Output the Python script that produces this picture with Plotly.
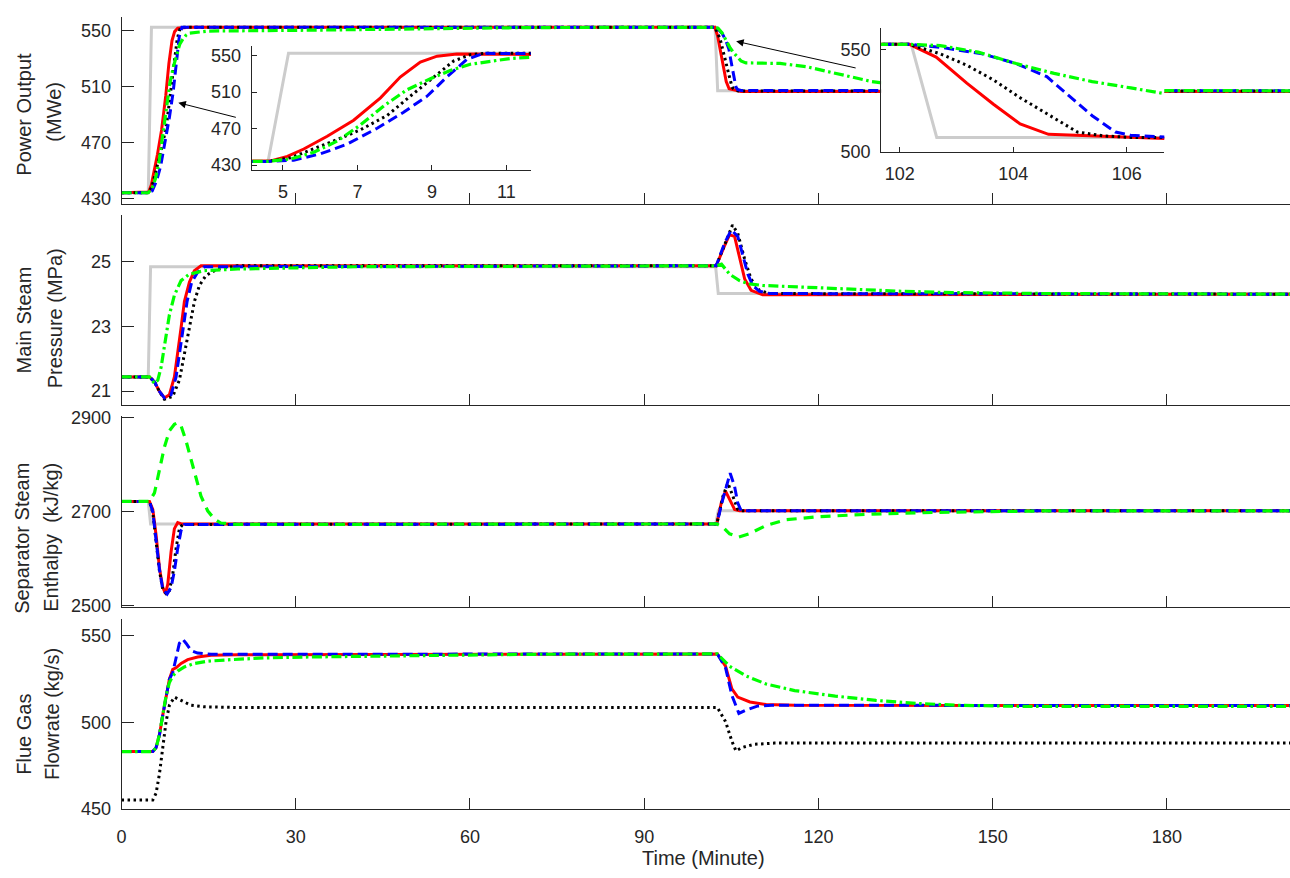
import plotly.graph_objects as go

# ---------------- DATA ----------------
# Power output (MWe)
pw_gray_t = [0, 4.6, 5.15, 102.2, 102.65, 201.5]
pw_gray_v = [434, 434, 552.5, 552.5, 507, 507]
pw_red_t = [0, 4.18, 4.67, 5.12, 5.56, 6.19, 6.90, 7.62, 8.15, 8.69, 9.14, 9.67, 11.68, 102.17, 102.64, 103.18, 103.65, 104.12, 104.62, 105.06, 106.66, 201.5]
pw_red_v = [434, 434, 434.5, 439.5, 447.6, 461.6, 479.2, 503.7, 526.5, 543, 549.4, 551.8, 552.5, 552.5, 546.3, 533.5, 523.2, 513.6, 508.5, 508, 506.5, 506.5]
pw_blk_t = [0, 4.6, 5.21, 5.83, 6.46, 7.08, 7.80, 8.42, 9.05, 9.58, 10.03, 10.47, 102.17, 102.71, 103.18, 103.65, 104.12, 104.59, 105.13, 105.60, 106.07, 106.66, 201.5]
pw_blk_v = [434, 434, 438, 447.6, 458, 468.6, 484.4, 505.5, 526.5, 544, 551, 552.5, 552.5, 547.9, 542.3, 535.1, 526.4, 518.4, 509.6, 507.7, 507.0, 506.9, 506.9]
pw_blu_t = [0, 4.6, 5.29, 6.01, 6.72, 7.53, 8.24, 8.87, 9.40, 9.94, 10.39, 102.17, 102.71, 103.45, 104.05, 104.59, 104.99, 105.39, 105.80, 106.07, 106.66, 201.5]
pw_blu_v = [434, 434, 435.3, 442.3, 452.8, 470.4, 487.9, 505.5, 526.5, 545.8, 552.5, 552.5, 551.1, 547.9, 543.1, 536.7, 527.2, 517.6, 509.6, 508, 507.2, 507]
pw_grn_t = [0, 4.6, 5.21, 5.83, 6.46, 7.08, 7.71, 8.33, 8.96, 9.49, 10.03, 10.56, 11.10, 11.68, 15, 30, 50, 70, 102.17, 102.71, 103.38, 104.05, 104.72, 105.39, 106.07, 106.66, 107.5, 110.1, 113.4, 118, 123.2, 129.1, 135, 145, 160, 201.5]
pw_grn_v = [434, 434, 436.7, 444, 456.3, 473.9, 494.9, 512.5, 524.7, 533.6, 540.5, 544, 546.8, 548.3, 549.8, 550.3, 551.5, 552.3, 552.5, 551.9, 548.7, 543.1, 538.3, 534.3, 531.2, 528.4, 527, 527, 526.6, 524.2, 519.5, 513.7, 510.5, 508.3, 507.3, 507]

# Main steam pressure (MPa)
pr_gray_t = [0, 4.6, 5.0, 102.3, 102.75, 201.5]
pr_gray_v = [21.44, 21.44, 24.85, 24.85, 24.02, 24.02]
pr_red_t = [0, 4.81, 5.67, 6.53, 7.38, 8.24, 9.10, 9.67, 10.25, 10.82, 11.68, 12.54, 13.68, 15.4, 102.4, 103.84, 104.7, 105.56, 106.4, 107.3, 108.4, 110.4, 201.5]
pr_red_v = [21.44, 21.44, 21.29, 20.99, 20.79, 20.89, 21.44, 22.15, 22.96, 23.77, 24.37, 24.73, 24.88, 24.88, 24.88, 25.5, 25.84, 25.79, 25.18, 24.47, 24.12, 23.98, 24.0]
pr_blu_t = [0, 4.81, 5.67, 6.53, 7.38, 8.53, 9.39, 9.96, 10.53, 11.28, 12.07, 13.1, 14.25, 102.4, 103.84, 105.0, 106.1, 107.0, 107.85, 108.7, 109.85, 111.6, 201.5]
pr_blu_v = [21.44, 21.44, 21.29, 20.99, 20.79, 20.89, 21.44, 22.15, 22.93, 23.77, 24.37, 24.68, 24.85, 24.88, 25.58, 25.99, 25.79, 25.18, 24.62, 24.27, 24.09, 24.02, 24.0]
pr_blk_t = [0, 4.81, 5.67, 6.53, 7.38, 8.82, 9.96, 10.82, 11.68, 12.54, 13.4, 14.54, 16.5, 20, 102.4, 103.84, 105.2, 106.1, 107.3, 108.4, 109.85, 111.6, 201.5]
pr_blk_v = [21.44, 21.44, 21.29, 20.99, 20.75, 20.84, 21.34, 22.15, 23.06, 23.77, 24.27, 24.58, 24.78, 24.88, 24.88, 25.54, 26.14, 25.89, 25.08, 24.47, 24.12, 24.02, 24.0]
pr_grn_t = [0, 4.81, 5.67, 6.24, 6.81, 7.38, 8.24, 9.10, 10.25, 11.68, 14.25, 20, 40, 102.4, 103.3, 104.7, 106.4, 108.1, 110.4, 117.3, 125.9, 134.5, 143, 160, 201.5]
pr_grn_v = [21.44, 21.44, 21.24, 21.34, 21.74, 22.45, 23.36, 23.97, 24.42, 24.62, 24.73, 24.78, 24.85, 24.88, 24.93, 24.62, 24.42, 24.32, 24.27, 24.22, 24.15, 24.09, 24.05, 24.02, 24.0]

# Separator steam enthalpy (kJ/kg)
en_gray_t = [0, 4.6, 5.0, 102.3, 102.75, 201.5]
en_gray_v = [2722, 2722, 2674, 2674, 2702, 2702]
en_red_t = [0, 4.81, 5.38, 5.95, 6.53, 7.10, 7.56, 7.96, 8.53, 9.10, 9.67, 10.3, 102.5, 103.27, 104.0, 104.7, 105.56, 106.4, 201.5]
en_red_v = [2722, 2722, 2705, 2650, 2580, 2539, 2526, 2546, 2615, 2664, 2677, 2674, 2674, 2719, 2744, 2726, 2705, 2702, 2702]
en_blk_t = [0, 4.81, 5.38, 5.95, 6.53, 7.10, 7.67, 8.24, 8.82, 9.39, 9.96, 10.53, 102.5, 103.56, 104.4, 105.27, 106.1, 106.7, 201.5]
en_blk_v = [2722, 2722, 2698, 2636, 2574, 2535, 2526, 2532, 2567, 2622, 2664, 2673, 2674, 2733, 2761, 2733, 2705, 2702, 2702]
en_blu_t = [0, 4.81, 5.38, 5.95, 6.53, 7.10, 7.85, 8.53, 9.10, 9.67, 10.25, 10.82, 102.5, 103.56, 104.24, 104.8, 105.56, 106.1, 106.7, 201.5]
en_blu_v = [2722, 2722, 2700, 2640, 2577, 2535, 2525, 2539, 2574, 2622, 2660, 2673, 2674, 2728, 2761, 2782, 2754, 2719, 2702, 2702]
en_grn_t = [0, 4.81, 5.67, 6.53, 7.38, 8.24, 9.10, 9.67, 10.25, 11.1, 11.97, 12.83, 13.68, 14.83, 15.97, 17.1, 20, 102.5, 103.56, 104.7, 106.3, 108.1, 111.0, 114.4, 120.2, 125.9, 131.6, 140.2, 148.8, 160.2, 201.5]
en_grn_v = [2722, 2722, 2740, 2789, 2837.5, 2872, 2886, 2889.6, 2882.5, 2851, 2810, 2768, 2733, 2702, 2684.6, 2676, 2673, 2674, 2667, 2653, 2646, 2653, 2671, 2683, 2689.6, 2693, 2696, 2698.5, 2700.7, 2702, 2702]

# Flue gas flowrate (kg/s)
fg_red_t = [0, 5.38, 5.95, 6.53, 7.10, 7.67, 8.24, 8.82, 9.39, 10.25, 11.39, 13.1, 15.4, 20, 102.6, 104.0, 105.1, 106.1, 108.2, 111.0, 115.9, 201.5]
fg_red_v = [483, 483, 485.3, 492.8, 504.1, 515.4, 524.9, 530.6, 531.5, 534, 536.2, 537.7, 538.7, 539, 539.5, 532.4, 519.3, 514.5, 511.7, 510.2, 509.8, 509.6]
fg_blu_t = [0, 5.38, 5.95, 6.53, 7.10, 7.67, 8.24, 8.82, 9.39, 9.96, 10.53, 11.1, 11.97, 13.1, 15.4, 102.6, 104.0, 105.1, 106.3, 107.5, 109.6, 112, 201.5]
fg_blu_v = [483, 483, 485.3, 492.8, 504.1, 515.4, 524.9, 528.7, 538.1, 545.7, 548, 545.7, 541.5, 540, 539.3, 539.5, 531.5, 515.5, 505.1, 507, 509.4, 509.8, 509.6]
fg_grn_t = [0, 5.38, 5.95, 6.53, 7.10, 7.67, 8.24, 8.82, 9.67, 10.82, 12.54, 14.83, 18.84, 24.56, 31.4, 50, 70, 102.6, 104.7, 107.5, 111.0, 115.9, 122.9, 129.9, 136.9, 143.9, 154.4, 201.5]
fg_grn_v = [483, 483, 485.3, 492.8, 504.1, 515.4, 523, 526.8, 529.6, 532, 534, 535.3, 536.2, 537.2, 537.7, 538.5, 539.3, 539.5, 532.4, 526.8, 522.1, 518.3, 515.1, 512.6, 510.9, 509.8, 509.2, 509.2]
fg_blk_t = [0, 5.38, 5.95, 6.53, 7.10, 7.67, 8.24, 9.1, 10.25, 11.97, 14.25, 20, 102.6, 104.0, 105.1, 105.8, 106.8, 108.9, 112.4, 201.5]
fg_blk_v = [455, 455, 458.9, 470.2, 485.3, 500.4, 509.8, 514.5, 512.6, 509.8, 508.9, 508.5, 508.5, 500.4, 489, 483.4, 485.3, 487.2, 487.9, 487.9]

x_ticks = [0, 30, 60, 90, 120, 150, 180]
pw_ticks = [430, 470, 510, 550]
pr_ticks = [21, 23, 25]
en_ticks = [2500, 2700, 2900]
fg_ticks = [450, 500, 550]
in1_xticks = [5, 7, 9, 11]
in2_xticks = [102, 104, 106]
in2_yticks = [500, 550]
y_titles = [["Power Output", "(MWe)"], ["Main Steam", "Pressure (MPa)"],
            ["Separator Steam", "Enthalpy\u00a0\u00a0(kJ/kg)"], ["Flue Gas", "Flowrate (kg/s)"]]
x_title = "Time (Minute)"

# ---------------- STYLE ----------------
W, H = 1290, 878
FONT = "Arial, Liberation Sans, sans-serif"
TXT = "#262626"
GRAY = dict(color="#CCCCCC", width=3)
RED = dict(color="#FF0000", width=3)
BLUE = dict(color="#0000FF", width=3, dash="10px,5px")
BLACK = dict(color="#000000", width=3, dash="2.5px,3.5px")
GREEN = dict(color="#00FF00", width=3.2, dash="10px,3.5px,2.5px,3.5px")
GREEN_DASH = dict(color="#00FF00", width=3.2, dash="10px,7px")

def fx(px):
    return px / W

def fy(py):
    return 1 - py / H

fig = go.Figure()

def add(t, v, line, xa, ya):
    fig.add_trace(go.Scatter(x=t, y=v, mode="lines", line=line, xaxis=xa, yaxis=ya,
                             showlegend=False, hoverinfo="skip"))

power = [(pw_gray_t, pw_gray_v, GRAY), (pw_red_t, pw_red_v, RED), (pw_blk_t, pw_blk_v, BLACK),
         (pw_blu_t, pw_blu_v, BLUE), (pw_grn_t, pw_grn_v, GREEN)]
press = [(pr_gray_t, pr_gray_v, GRAY), (pr_red_t, pr_red_v, RED), (pr_blk_t, pr_blk_v, BLACK),
         (pr_blu_t, pr_blu_v, BLUE), (pr_grn_t, pr_grn_v, GREEN)]
enth = [(en_gray_t, en_gray_v, GRAY), (en_red_t, en_red_v, RED), (en_blk_t, en_blk_v, BLACK),
        (en_blu_t, en_blu_v, BLUE), (en_grn_t, en_grn_v, GREEN_DASH)]
flue = [(fg_red_t, fg_red_v, RED), (fg_blk_t, fg_blk_v, BLACK),
        (fg_blu_t, fg_blu_v, BLUE), (fg_grn_t, fg_grn_v, GREEN)]

for i, grp in enumerate([power, press, enth, flue]):
    xa = "x" if i == 0 else f"x{i+1}"
    ya = "y" if i == 0 else f"y{i+1}"
    for t, v, ln in grp:
        add(t, v, ln, xa, ya)
for t, v, ln in power:
    add(t, v, ln, "x5", "y5")
for t, v, ln in power:
    add(t, v, ln, "x6", "y6")

axis_common = dict(showline=True, linecolor=TXT, linewidth=1, mirror=False, showgrid=False,
                   zeroline=False, ticks="inside", tickcolor=TXT, tickwidth=1,
                   tickfont=dict(family=FONT, size=18, color=TXT))

xdom = [fx(117), 1.0]
panels = [(9, 200, [426, 560], pw_ticks), (211.7, 405.7, [20.56, 26.44], pr_ticks),
          (416.7, 611.7, [2497, 2903.3], en_ticks), (623.3, 817.7, [449.8, 560], fg_ticks)]
lay = {}
for i, (top, bot, yr, yt) in enumerate(panels):
    k = "" if i == 0 else str(i + 1)
    lay["xaxis" + k] = dict(axis_common, domain=xdom, range=[0, 201.2], tickvals=x_ticks,
                            ticklen=11, anchor="y" + k, showticklabels=(i == 3),
                            ticklabelstandoff=11,
                            **({} if i == 0 else {"matches": "x"}))
    lay["yaxis" + k] = dict(axis_common, domain=[fy(bot), fy(top)], range=yr, tickvals=yt,
                            ticklen=12, anchor="x" + k, ticklabelstandoff=6)

lay["xaxis5"] = dict(axis_common, domain=[fx(247.7), fx(528)], range=[4.163, 11.66],
                     tickvals=in1_xticks, ticklen=5, anchor="y5", ticklabelstandoff=6)
lay["yaxis5"] = dict(axis_common, domain=[fy(165), fy(39.3)], range=[425, 560],
                     tickvals=pw_ticks, ticklen=5, anchor="x5", ticklabelstandoff=6)
lay["xaxis6"] = dict(axis_common, domain=[fx(879.5), fx(1163.8)], range=[101.67, 106.66],
                     tickvals=in2_xticks, ticklen=5, anchor="y6", ticklabelstandoff=6)
lay["yaxis6"] = dict(axis_common, domain=[fy(146.7), fy(20)], range=[500, 560.7],
                     tickvals=in2_yticks, ticklen=5, anchor="x6", ticklabelstandoff=6)

ann = []
title_pos = [((19, 108), (49, 106)), ((20, 318), (50, 317)), ((17, 541), (46, 540)), ((19, 741), (47, 721))]
for (l1, l2), ((x1, y1), (x2, y2)) in zip(y_titles, title_pos):
    for txt, xx, yy in [(l1, x1, y1), (l2, x2, y2)]:
        ann.append(dict(text=txt, x=fx(xx), y=fy(yy), xref="paper", yref="paper",
                        textangle=-90, showarrow=False, xanchor="center", yanchor="middle",
                        font=dict(family=FONT, size=20, color=TXT)))
ann.append(dict(text=x_title, x=fx(701), y=fy(868), xref="paper", yref="paper", showarrow=False,
                xanchor="center", yanchor="middle", font=dict(family=FONT, size=20, color=TXT)))
# arrows pointing from insets to the transients
ann.append(dict(text="", x=fx(174), y=fy(96.7), xref="paper", yref="paper", showarrow=True,
                ax=59, ay=15, axref="pixel", ayref="pixel", arrowhead=2, arrowsize=1.5,
                arrowwidth=1, arrowcolor="#000000"))
ann.append(dict(text="", x=fx(734), y=fy(34), xref="paper", yref="paper", showarrow=True,
                ax=121, ay=27, axref="pixel", ayref="pixel", arrowhead=2, arrowsize=1.5,
                arrowwidth=1, arrowcolor="#000000"))

fig.update_layout(width=W, height=H, margin=dict(l=0, r=0, t=0, b=0),
                  paper_bgcolor="white", plot_bgcolor="white", showlegend=False,
                  annotations=ann, **lay)

fig.write_html("out.html", config={"displayModeBar": False})
